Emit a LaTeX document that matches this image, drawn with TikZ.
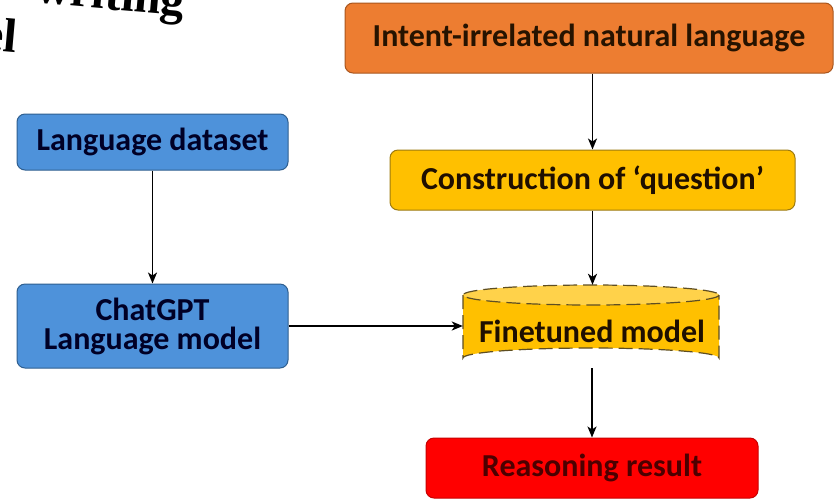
\documentclass[tikz,border=0pt]{standalone}
\usepackage{fontspec}
\setmainfont{Carlito}
\newfontfamily\titlefont{Liberation Serif}
\usetikzlibrary{arrows.meta}
\definecolor{bluefill}{HTML}{4E92DA}
\definecolor{blueline}{HTML}{2F5F90}
\definecolor{orangefill}{HTML}{ED7D31}
\definecolor{orangeline}{HTML}{A9561E}
\definecolor{yellowfill}{HTML}{FFC000}
\definecolor{yellowline}{HTML}{9C7A10}
\definecolor{yellowtop}{HTML}{FFD24A}
\definecolor{redfill}{HTML}{FF0000}
\definecolor{redline}{HTML}{C80000}
\definecolor{cylline}{HTML}{5E4E22}
\tikzset{
  boxfont/.style={font=\bfseries\fontsize{32}{29}\selectfont},
  box/.style={rectangle, rounded corners=8pt, line width=1pt, inner sep=0pt,
    align=center, boxfont},
  bluebox/.style={box, fill=bluefill, draw=blueline, text=black!85!blue},
  orangebox/.style={box, fill=orangefill, draw=orangeline, text=black!85!orange},
  yellowbox/.style={box, fill=yellowfill, draw=yellowline, text=black!88!orange},
  redbox/.style={box, fill=redfill, draw=redline, text=black!70!red},
  flow/.style={line width=1.8pt, -{Stealth[length=11pt,width=9pt,inset=3pt]}},
  titletext/.style={font=\titlefont\bfseries\fontsize{48}{50}\selectfont, inner sep=0pt, rotate=-5}
}
\begin{document}
\begin{tikzpicture}[x=1pt,y=-1pt]
\useasboundingbox (0,0) rectangle (834,499);
\clip (0,0) rectangle (834,499);
\fill[white] (0,0) rectangle (834,499);

% cut-off title
\node[titletext, anchor=base east] (title1) at (184,16) {writing};
\node[titletext, anchor=base east] (title2) at (16,53) {el};

% boxes
\node[orangebox, minimum width=488pt, minimum height=70pt] (intent) at (589,38) {Intent-irrelated natural language};
\node[bluebox, minimum width=271pt, minimum height=56pt] (dataset) at (152.5,142) {Language dataset};
\node[yellowbox, minimum width=405pt, minimum height=60pt] (question) at (592.5,180) {Construction of `question'};
\node[bluebox, minimum width=271pt, minimum height=84pt] (chatgpt) at (152.5,326) {ChatGPT\\Language model};
\node[redbox, minimum width=332pt, minimum height=60pt] (result) at (592,468) {Reasoning result};

% cylinder (finetuned model)
\fill[yellowfill] (463,295) -- (463,358) arc[start angle=180, end angle=360, x radius=128, y radius=10] -- (719,295) -- cycle;
\fill[yellowtop] (591,295) ellipse[x radius=128, y radius=10];
\draw[cylline, line width=1.2pt, dash pattern=on 14pt off 6pt]
  (591,295) ellipse[x radius=128, y radius=10]
  (463,295) -- (463,358) arc[start angle=180, end angle=360, x radius=128, y radius=10] -- (719,295);
\node[inner sep=0pt, minimum width=256pt, minimum height=83pt] (model) at (591,326.5) {};
\node[inner sep=0pt, boxfont, text=black!88!orange] (modeltext) at (592,331) {Finetuned model};

% connectors
\draw[flow] (intent.south -| question.north) -- (question.north);
\draw[flow] (question.south) -- (question.south |- model.north);
\draw[flow] (dataset.south) -- (chatgpt.north);
\draw[flow] (chatgpt.east) -- (chatgpt.east -| model.west);
\draw[flow] (model.south -| result.north) -- (result.north);
\end{tikzpicture}
\end{document}
